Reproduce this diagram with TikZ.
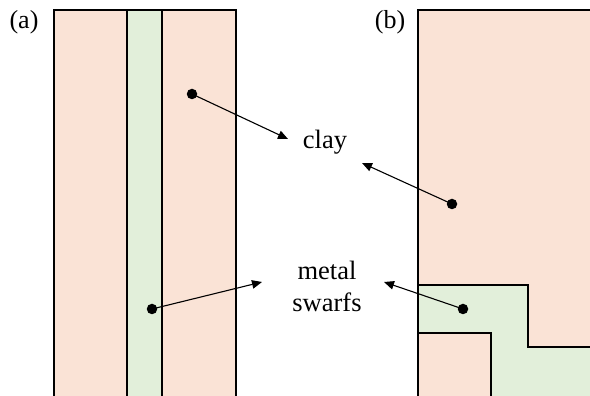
\documentclass[tikz,border=0pt]{standalone}
\usepackage{fontspec}
\setmainfont{Liberation Serif}
\usetikzlibrary{arrows.meta}
\definecolor{clay}{HTML}{FAE3D6}
\definecolor{swarf}{HTML}{E2EFDA}
\begin{document}
\begin{tikzpicture}[x=1pt,y=1pt,
  edge/.style={line width=1.5pt},
  pointer/.style={line width=1.1pt,-{Triangle[length=10pt,width=8.5pt]}},
  dotnode/.style={circle,fill=black,inner sep=0pt,minimum size=10.5pt},
  lbl/.style={font=\fontsize{26.5}{32}\selectfont,align=center,inner sep=0pt},
  tag/.style={font=\fontsize{26}{30}\selectfont,inner sep=0pt}]
\useasboundingbox (0,0) rectangle (590,396);
% panel (a)
\fill[clay] (54,0) rectangle (236,386);
\fill[swarf] (127,0) rectangle (162,386);
\draw[edge] (54,0) -- (54,386) -- (236,386) -- (236,0);
\draw[edge] (127,0) -- (127,386);
\draw[edge] (162,0) -- (162,386);
% panel (b)
\fill[clay] (418,0) rectangle (590,386);
\fill[swarf] (418,111) -- (528,111) -- (528,49) -- (590,49) -- (590,0) -- (491,0) -- (491,63) -- (418,63) -- cycle;
\draw[edge] (418,0) -- (418,386) -- (590,386);
\draw[edge] (418,111) -- (528,111) -- (528,49) -- (590,49);
\draw[edge] (418,63) -- (491,63) -- (491,0);
% labels
\node[tag] (ta) at (24,374) {(a)};
\node[tag] (tb) at (390,374) {(b)};
\node[lbl] (clay) at (325,254) {clay};
\node[lbl] (metal) at (327,110) {metal\\swarfs};
% dots
\node[dotnode] (d1) at (192,302) {};
\node[dotnode] (d2) at (452,192) {};
\node[dotnode] (d3) at (152,87) {};
\node[dotnode] (d4) at (463,87) {};
\coordinate (e1) at (288,257);
\coordinate (e2) at (362,233);
\coordinate (e3) at (262,114);
\coordinate (e4) at (384,114);
\draw[pointer] (d1.center) -- (e1);
\draw[pointer] (d2.center) -- (e2);
\draw[pointer] (d3.center) -- (e3);
\draw[pointer] (d4.center) -- (e4);
\end{tikzpicture}
\end{document}
